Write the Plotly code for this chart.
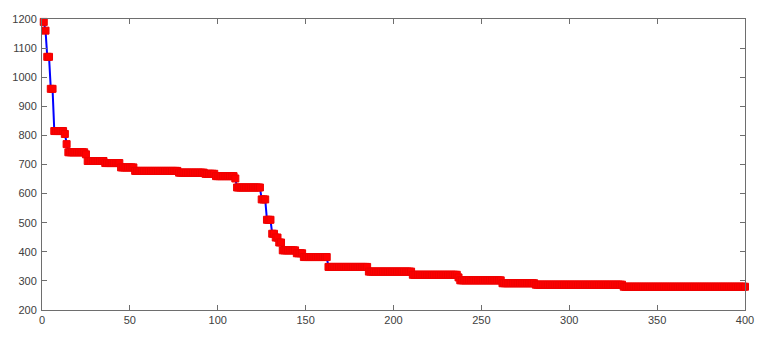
import numpy as np
import plotly.graph_objects as go

# Step-wise series: value of each run and its length
run_values = [1190, 1160, 1070, 960, 815, 805, 770, 742, 735, 712, 705, 690,
              678, 672, 668, 660, 652, 621, 580, 510, 462, 449, 432, 405,
              395, 382, 348, 332, 321, 312, 302, 292, 287, 280]
run_lengths = [1, 1, 2, 2, 6, 1, 1, 10, 1, 10, 9, 8,
               25, 15, 6, 11, 1, 14, 3, 3, 2, 2, 2, 8,
               4, 14, 23, 25, 26, 1, 24, 19, 50, 70]

y_vals = np.repeat(run_values, run_lengths)
x_vals = np.arange(1, len(y_vals) + 1)

x_ticks = [0, 50, 100, 150, 200, 250, 300, 350, 400]
y_ticks = [200, 300, 400, 500, 600, 700, 800, 900, 1000, 1100, 1200]

fig = go.Figure()
fig.add_trace(go.Scatter(
    x=x_vals, y=y_vals, mode="lines+markers",
    line=dict(color="#0000ff", width=2),
    marker=dict(symbol="square", size=7, color="#ff0000",
                line=dict(color="#ee0000", width=1)),
    cliponaxis=False, showlegend=False,
))

axis_common = dict(
    showgrid=False, zeroline=False, showline=True, mirror="ticks",
    linecolor="#6e6e6e", linewidth=1, ticks="inside", ticklen=5,
    tickcolor="#6e6e6e", tickfont=dict(family="Liberation Sans, Arial", size=11, color="#404040"),
)
fig.update_xaxes(range=[0, 400], tickvals=x_ticks, **axis_common)
fig.update_yaxes(range=[200, 1200], tickvals=y_ticks, ticklabelstandoff=2, **axis_common)

fig.update_layout(
    width=771, height=345,
    margin=dict(l=40, r=26, t=19, b=35),
    plot_bgcolor="white", paper_bgcolor="white",
)
fig.write_html("out.html")
